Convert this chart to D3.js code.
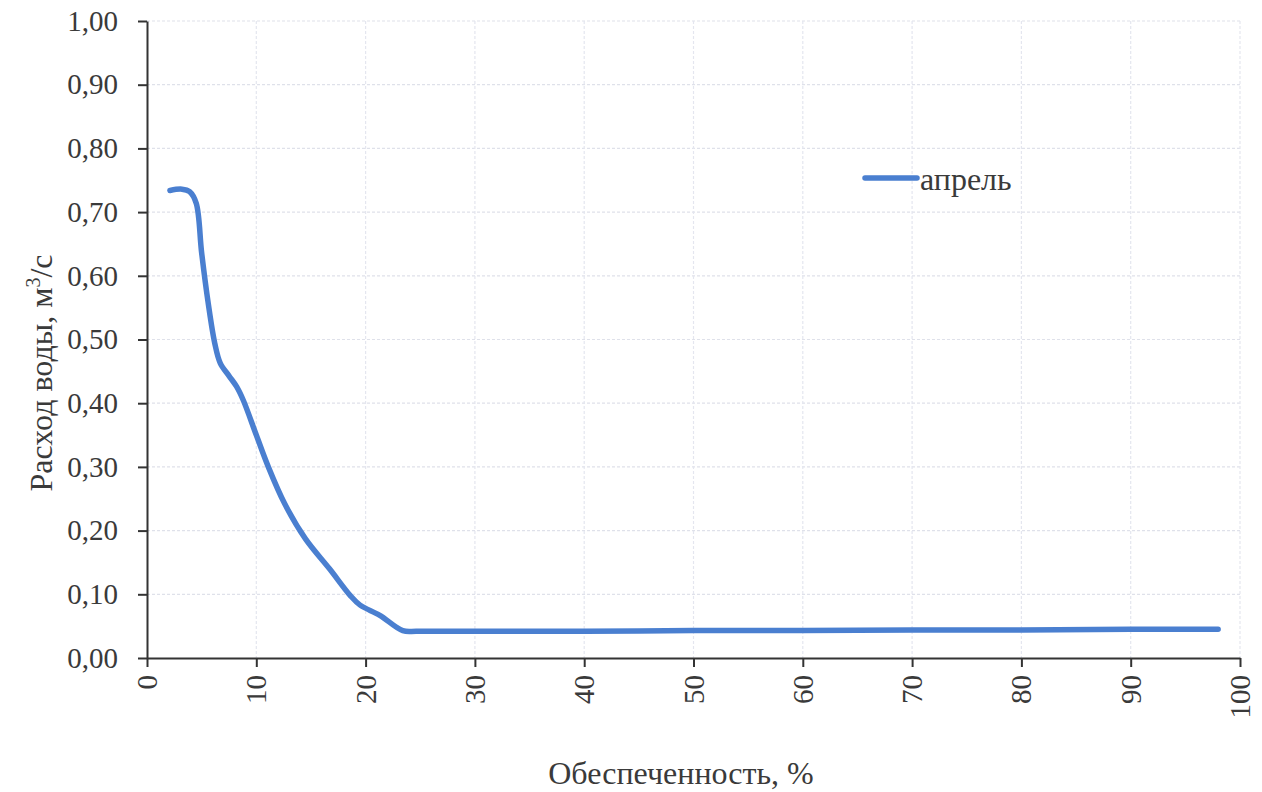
<!DOCTYPE html>
<html><head><meta charset="utf-8">
<script src="https://cdn.jsdelivr.net/npm/d3@7/dist/d3.min.js"></script>
<style>body{margin:0;background:#fff}svg{display:block}</style>
</head><body><svg id="c" width="1262" height="792"></svg>
<script>
const xValues = [2.1, 3.2, 3.9, 4.5, 5.0, 5.6, 6.2, 6.7, 7.5, 8.2, 8.8, 10.0, 11.1, 12.6, 14.5, 16.7, 18.6, 19.5, 21.3, 23.4, 24.7, 30, 40, 50, 60, 70, 80, 90, 98];
const aprel = [0.734, 0.736, 0.732, 0.714, 0.636, 0.557, 0.494, 0.463, 0.443, 0.426, 0.405, 0.350, 0.300, 0.242, 0.187, 0.140, 0.098, 0.083, 0.067, 0.043, 0.042, 0.042, 0.042, 0.043, 0.043, 0.044, 0.044, 0.045, 0.045];
const xTicks = [0,10,20,30,40,50,60,70,80,90,100];
const yTicks = [0,0.1,0.2,0.3,0.4,0.5,0.6,0.7,0.8,0.9,1.0];
const seriesName = "апрель";
const xTitle = "Обеспеченность, %";

const svg = d3.select("#c");
const L=147, R=1240, T=21, B=658;
const x = d3.scaleLinear().domain([0,100]).range([L,R]);
const y = d3.scaleLinear().domain([0,1]).range([B,T]);
const font = "'Liberation Serif','Times New Roman',serif";
const txt = "#3a3a3a";

// grid
svg.append("g").selectAll("line").data(yTicks.slice(1)).join("line")
  .attr("x1",L).attr("x2",R).attr("y1",d=>y(d)).attr("y2",d=>y(d))
  .attr("stroke","#dfe1ea").attr("stroke-width",1.2).attr("stroke-dasharray","3,2");
svg.append("g").selectAll("line").data(xTicks.slice(1)).join("line")
  .attr("x1",d=>x(d)).attr("x2",d=>x(d)).attr("y1",T).attr("y2",B)
  .attr("stroke","#e4e6ef").attr("stroke-width",1.2).attr("stroke-dasharray","3,2");

// y axis
const ya = svg.append("g").attr("transform",`translate(${L},0)`)
  .call(d3.axisLeft(y).tickValues(yTicks).tickSize(9).tickSizeOuter(0).tickPadding(20)
    .tickFormat(d=>d3.format(".2f")(d).replace(".",",")));
ya.select(".domain").attr("stroke","#333").attr("stroke-width",2);
ya.selectAll(".tick line").attr("stroke","#333").attr("stroke-width",2);
ya.selectAll("text").attr("font-family",font).attr("font-size",29).attr("fill",txt);

// x axis
const xa = svg.append("g").attr("transform",`translate(0,${B})`)
  .call(d3.axisBottom(x).tickValues(xTicks).tickSize(9).tickSizeOuter(0));
xa.select(".domain").attr("stroke","#333").attr("stroke-width",2);
xa.selectAll(".tick line").attr("stroke","#333").attr("stroke-width",2);
xa.selectAll("text").attr("font-family",font).attr("font-size",29).attr("fill",txt)
  .attr("transform","rotate(-90)").attr("text-anchor","end")
  .attr("x",-17).attr("y",0).attr("dy","0.33em");

// line
const pts = xValues.map((v,i)=>[v,aprel[i]]);
svg.append("path").datum(pts)
  .attr("d", d3.line().x(d=>x(d[0])).y(d=>y(d[1])).curve(d3.curveCatmullRom.alpha(0.5)))
  .attr("fill","none").attr("stroke","#4a7fd0").attr("stroke-width",5.5)
  .attr("stroke-linecap","round").attr("stroke-linejoin","round");

// legend
svg.append("line").attr("x1",865).attr("x2",917).attr("y1",178).attr("y2",178)
  .attr("stroke","#4a7fd0").attr("stroke-width",5.5).attr("stroke-linecap","round");
svg.append("text").attr("x",920).attr("y",190).text(seriesName)
  .attr("font-family",font).attr("font-size",32).attr("fill",txt);

// axis titles
svg.append("text").attr("x",681).attr("y",784).attr("text-anchor","middle").text(xTitle)
  .attr("font-family",font).attr("font-size",32).attr("fill",txt);
const yt = svg.append("text").attr("transform","translate(52,373) rotate(-90)")
  .attr("text-anchor","middle").attr("font-family",font).attr("font-size",32).attr("fill",txt);
yt.append("tspan").text("Расход воды, м");
yt.append("tspan").text("3").attr("font-size",20).attr("dy",-12);
yt.append("tspan").text("/с").attr("dy",12);
</script></body></html>
